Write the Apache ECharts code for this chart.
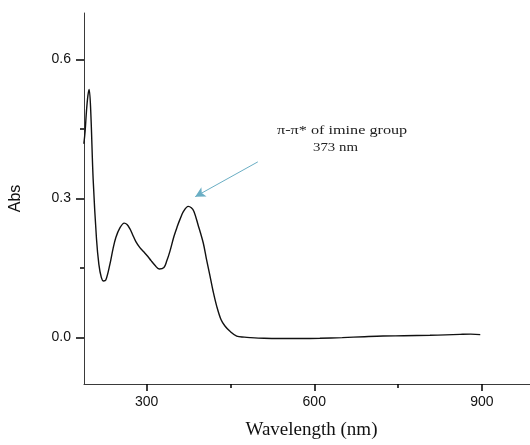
<!DOCTYPE html>
<html>
<head>
<meta charset="utf-8">
<script src="https://cdn.jsdelivr.net/npm/echarts@6/dist/echarts.min.js"></script>
<style>
html,body{margin:0;padding:0;background:#fff;}
#chart{width:530px;height:445px;}
</style>
</head>
<body>
<div id="chart"></div>
<script>
// Wavelength (nm) and absorbance
var wavelength = [187.7, 190, 192.5, 195, 197.2, 200, 204.4, 210.4, 214.6, 219, 223, 227, 234.3, 240, 245, 252, 259.9, 265, 270, 275, 280.8, 288, 295, 302.3, 308, 314.9, 322.6, 331, 336, 341.7, 348.9, 355, 359.7, 366, 374.5, 380, 384.7, 391.9, 401.4, 407, 413.4, 419, 425.4, 433.1, 440.2, 449.2, 461.2, 475, 485, 510, 538.8, 575, 610, 650, 690, 723, 760, 807, 835, 861, 880, 897];
var absorbance = [0.418, 0.445, 0.49, 0.522, 0.535, 0.49, 0.341, 0.212, 0.158, 0.13, 0.122, 0.124, 0.158, 0.192, 0.216, 0.236, 0.247, 0.244, 0.235, 0.222, 0.207, 0.194, 0.185, 0.175, 0.166, 0.156, 0.148, 0.151, 0.165, 0.186, 0.218, 0.24, 0.255, 0.272, 0.283, 0.28, 0.272, 0.244, 0.204, 0.17, 0.133, 0.1, 0.068, 0.039, 0.025, 0.0136, 0.0034, 0.001, 0, -0.0015, -0.002, -0.002, -0.0015, 0.0, 0.002, 0.0034, 0.004, 0.005, 0.006, 0.007, 0.0075, 0.0065];
var xMajorTicks = [300, 600, 900];
var xMinorTicks = [450, 750];
var yMajorTicks = [0, 0.3, 0.6];
var yMinorTicks = [0.15, 0.45];
var arrowStart = [499, 0.379];
var arrowEnd = [387, 0.304];
var annotationLines = ['\u03c0-\u03c0* of imine group', '373 nm'];

var seriesData = wavelength.map(function (w, i) { return [w, absorbance[i]]; });

var chart = echarts.init(document.getElementById('chart'), null, {renderer: 'canvas'});
var axisColor = '#3a3a3a';
var xMin = 188, xMax = 986, yMin = -0.1, yMax = 0.7;

chart.setOption({
  animation: false,
  backgroundColor: '#ffffff',
  grid: {left: 84, top: 13, right: 0, bottom: 59, containLabel: false},
  xAxis: [{
    type: 'value', min: xMin, max: xMax, position: 'bottom',
    axisLine: {show: true, onZero: false, lineStyle: {color: axisColor, width: 1}},
    axisTick: {show: true, customValues: xMajorTicks, length: 7, lineStyle: {color: '#000', width: 1.5}},
    axisLabel: {show: true, customValues: xMajorTicks, color: '#111', fontSize: 14, fontFamily: 'Liberation Sans', margin: 11},
    splitLine: {show: false},
    name: 'Wavelength (nm)', nameLocation: 'middle', nameGap: 37,
    nameTextStyle: {fontFamily: 'Liberation Serif', fontSize: 19, color: '#111', padding: [0, 0, 0, 9]}
  }, {
    type: 'value', min: xMin, max: xMax, position: 'bottom', offset: 0,
    axisLine: {show: false, onZero: false},
    axisTick: {show: true, customValues: xMinorTicks, length: 4, lineStyle: {color: '#000', width: 1.5}},
    axisLabel: {show: false},
    splitLine: {show: false}
  }],
  yAxis: [{
    type: 'value', min: yMin, max: yMax, position: 'left',
    axisLine: {show: true, onZero: false, lineStyle: {color: axisColor, width: 1}},
    axisTick: {show: true, customValues: yMajorTicks, length: 8, lineStyle: {color: '#000', width: 1.5}},
    axisLabel: {show: true, customValues: yMajorTicks, color: '#111', fontSize: 14, fontFamily: 'Liberation Sans', margin: 13,
      formatter: function (v) { return v.toFixed(1); }},
    splitLine: {show: false},
    name: 'Abs', nameLocation: 'middle', nameGap: 60, nameRotate: 90,
    nameTextStyle: {fontFamily: 'Liberation Sans', fontSize: 16, color: '#111'}
  }, {
    type: 'value', min: yMin, max: yMax, position: 'left', offset: 0,
    axisLine: {show: false, onZero: false},
    axisTick: {show: true, customValues: yMinorTicks, length: 4, lineStyle: {color: '#000', width: 1.5}},
    axisLabel: {show: false},
    splitLine: {show: false}
  }],
  series: [{
    type: 'line',
    data: seriesData,
    xAxisIndex: 0, yAxisIndex: 0,
    smooth: 0.35,
    showSymbol: false,
    lineStyle: {color: '#111', width: 1.4},
    markLine: {
      silent: true,
      symbol: ['none', 'arrow'],
      symbolSize: [8, 10],
      label: {show: false},
      lineStyle: {color: '#6aaec4', width: 1, type: 'solid'},
      data: [[{coord: arrowStart}, {coord: arrowEnd}]]
    }
  }],
  graphic: [{
    type: 'text', left: 277, top: 123, scaleX: 1.2,
    style: {text: annotationLines[0], fontFamily: 'Liberation Serif', fontSize: 13.5, fill: '#222'}
  }, {
    type: 'text', left: 313, top: 140, scaleX: 1.1,
    style: {text: annotationLines[1], fontFamily: 'Liberation Serif', fontSize: 13.5, fill: '#222'}
  }]
});
</script>
</body>
</html>
